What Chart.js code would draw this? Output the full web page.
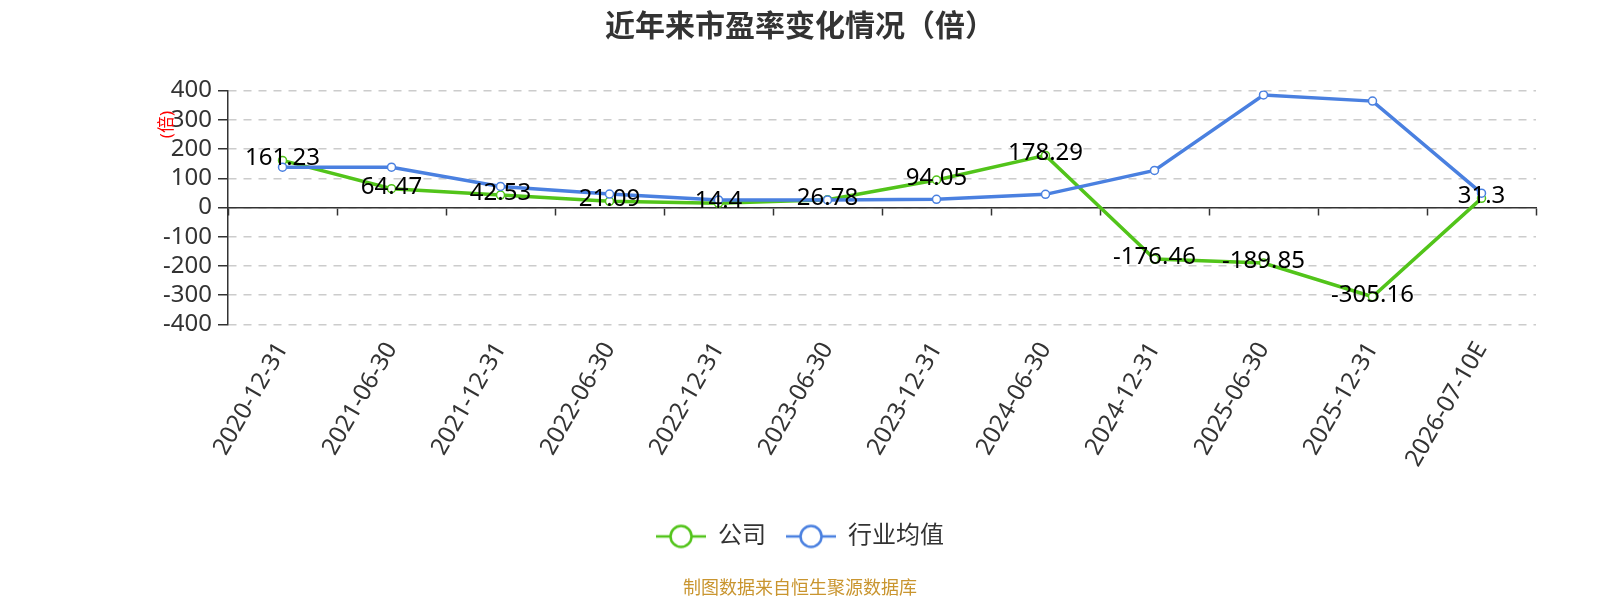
<!DOCTYPE html>
<html>
<head>
<meta charset="utf-8">
<title>近年来市盈率变化情况（倍）</title>
<script src="https://cdn.jsdelivr.net/npm/chart.js@4.4.1/dist/chart.umd.min.js"></script>
<style>
  html, body { margin: 0; padding: 0; background: #fff; }
  #wrap { width: 1600px; height: 600px; }
</style>
</head>
<body>
<div id="wrap"><canvas id="peChart"></canvas></div>
<script>
const FONT = "'Noto Sans', 'Noto Sans CJK SC', sans-serif";

const dates = ['2020-12-31', '2021-06-30', '2021-12-31', '2022-06-30', '2022-12-31', '2023-06-30',
  '2023-12-31', '2024-06-30', '2024-12-31', '2025-06-30', '2025-12-31', '2026-07-10E'];
const companyPE = [161.23, 64.47, 42.53, 21.09, 14.4, 26.78, 94.05, 178.29, -176.46, -189.85, -305.16, 31.3];
const industryPE = [138, 138, 72, 46, 26, 26, 28, 45, 127, 385, 364, 49];

const GREEN = '#52c41a';
const BLUE = '#4a80e0';

// little line-with-circle icon for the legend
const legendIcon = (color) => {
  const c = document.createElement('canvas');
  c.width = 50;
  c.height = 26;
  const g = c.getContext('2d');
  g.strokeStyle = color;
  g.lineWidth = 2.5;
  g.beginPath();
  g.moveTo(0, 13);
  g.lineTo(50, 13);
  g.stroke();
  g.beginPath();
  g.arc(25, 13, 10.5, 0, Math.PI * 2);
  g.fillStyle = '#fff';
  g.fill();
  g.stroke();
  return c;
};

const valueLabels = {
  id: 'valueLabels',
  afterDatasetsDraw(chart) {
    const ctx = chart.ctx;
    const meta = chart.getDatasetMeta(0);
    ctx.save();
    ctx.font = '24px ' + FONT;
    ctx.fillStyle = '#000';
    ctx.textAlign = 'center';
    ctx.textBaseline = 'middle';
    meta.data.forEach((pt, i) => {
      ctx.fillText(String(chart.data.datasets[0].data[i]), pt.x, pt.y - 2);
    });
    ctx.restore();
  }
};

const unitLabel = {
  id: 'unitLabel',
  afterDraw(chart) {
    const { ctx, chartArea } = chart;
    ctx.save();
    ctx.translate(chartArea.left - 61, chartArea.top + 34);
    ctx.rotate(-Math.PI / 2);
    ctx.font = '17px ' + FONT;
    ctx.fillStyle = '#ff0000';
    ctx.textAlign = 'center';
    ctx.textBaseline = 'middle';
    ctx.fillText('(倍)', 0, 0);
    ctx.restore();
  }
};

new Chart(document.getElementById('peChart'), {
  type: 'line',
  data: {
    labels: dates,
    datasets: [
      {
        label: '公司',
        data: companyPE,
        borderColor: GREEN,
        backgroundColor: '#fff',
        borderWidth: 3.5,
        pointRadius: 4,
        pointBorderWidth: 1.5,
        pointBackgroundColor: '#fff',
        pointBorderColor: GREEN,
        tension: 0,
        order: 1
      },
      {
        label: '行业均值',
        data: industryPE,
        borderColor: BLUE,
        backgroundColor: '#fff',
        borderWidth: 3.5,
        pointRadius: 4,
        pointBorderWidth: 1.5,
        pointBackgroundColor: '#fff',
        pointBorderColor: BLUE,
        tension: 0,
        order: 0
      }
    ]
  },
  options: {
    responsive: true,
    maintainAspectRatio: false,
    animation: false,
    layout: { padding: { left: 64, right: 64, top: 0, bottom: 0 } },
    plugins: {
      tooltip: { enabled: false },
      title: {
        display: true,
        text: '近年来市盈率变化情况（倍）',
        color: '#333',
        font: { family: FONT, size: 30, weight: 'bold' },
        padding: { top: 9, bottom: 45.6 }
      },
      subtitle: {
        display: true,
        position: 'bottom',
        text: '制图数据来自恒生聚源数据库',
        color: '#c9952f',
        font: { family: FONT, size: 18 },
        padding: { top: 20, bottom: 0 }
      },
      legend: {
        position: 'bottom',
        onClick: null,
        labels: {
          usePointStyle: true,
          pointStyleWidth: 50,
          padding: 20,
          color: '#333',
          font: { family: FONT, size: 24 },
          generateLabels(chart) {
            return chart.data.datasets.map((ds, i) => ({
              text: ds.label,
              pointStyle: legendIcon(ds.borderColor),
              fillStyle: '#fff',
              strokeStyle: ds.borderColor,
              lineWidth: 0,
              fontColor: '#333',
              datasetIndex: i,
              hidden: false
            }));
          }
        }
      }
    },
    scales: {
      x: {
        type: 'category',
        offset: true,
        border: { display: false },
        grid: { display: false, drawTicks: false },
        ticks: {
          autoSkip: false,
          minRotation: 60,
          maxRotation: 60,
          padding: 13,
          color: '#333',
          font: { family: FONT, size: 24 }
        },
        afterFit(scale) { scale.height = 180; }
      },
      x2: {
        type: 'category',
        position: { y: 0 },
        offset: true,
        border: { display: true, color: '#333', width: 1.5 },
        grid: {
          display: true,
          offset: true,
          drawOnChartArea: false,
          tickLength: 7,
          tickColor: '#333',
          tickWidth: 1.5
        },
        ticks: { display: false }
      },
      y: {
        min: -400,
        max: 400,
        border: { display: true, color: '#333', width: 1.5, dash: [8, 7] },
        grid: {
          color: '#cccccc',
          lineWidth: 1.5,
          drawTicks: true,
          tickLength: 10,
          tickColor: '#333',
          tickWidth: 1.5,
          tickBorderDash: []
        },
        ticks: {
          stepSize: 100,
          autoSkip: false,
          padding: 6,
          color: '#333',
          font: { family: FONT, size: 24 }
        },
        afterFit(scale) { scale.width = 164; }
      }
    }
  },
  plugins: [valueLabels, unitLabel]
});
</script>
</body>
</html>
